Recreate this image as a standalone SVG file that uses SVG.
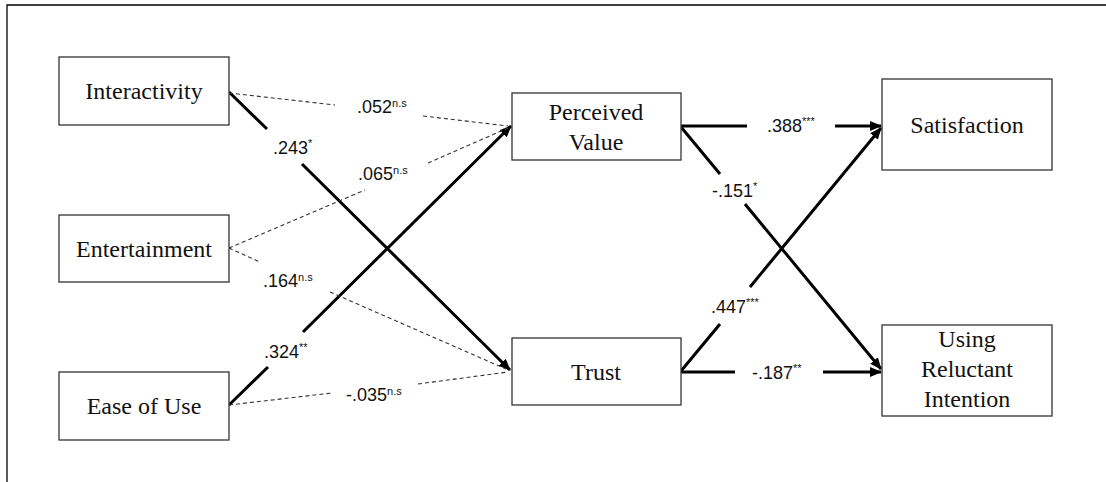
<svg xmlns="http://www.w3.org/2000/svg" width="1106" height="482" viewBox="0 0 1106 482">
<style>
.box{fill:#fff;stroke:#333;stroke-width:1.3}
.nt{font-family:'Liberation Serif','Times New Roman','DejaVu Serif',serif;font-size:24px;fill:#111;text-anchor:middle}
.lb{font-family:'Liberation Sans',Arial,sans-serif;font-size:18px;fill:#111}
.sp{font-size:11px}
.solid{fill:none;stroke:#000;stroke-width:3}
.dash{fill:none;stroke:#333;stroke-width:1.1;stroke-dasharray:4 3}
.frame{fill:none;stroke:#000;stroke-width:1.3}
</style>
<defs>
<marker id="ah" markerUnits="userSpaceOnUse" markerWidth="12" markerHeight="10" viewBox="0 0 12 10" refX="11" refY="5" orient="auto">
<path d="M0,0 L12,5 L0,10 z" fill="#000"/>
</marker>
</defs>
<rect width="1106" height="482" fill="#fff"/>
<path class="frame" d="M7,482 L7,5 L1106,5"/>

<g id="connectors">
<path class="solid" d="M229,92 L267,129 M302,164 L510,370" marker-end="url(#ah)"/>
<path class="solid" d="M229,405 L268,367 M303,332 L511,126" marker-end="url(#ah)"/>
<path class="solid" d="M681,126 L747,126 M835,126 L881,126" marker-end="url(#ah)"/>
<path class="solid" d="M681,127 L720,174 M745,204 L881,369" marker-end="url(#ah)"/>
<path class="solid" d="M681,371 L720,324 M750,287 L881,128" marker-end="url(#ah)"/>
<path class="solid" d="M681,372 L735,372 M823,372 L881,372" marker-end="url(#ah)"/>
<path class="dash" d="M229,93 L335,105 M423,116 L508,126"/>
<path class="dash" d="M229,248 L365,190 M428,163 L508,128"/>
<path class="dash" d="M229,248 L260,262 M330,292 L506,369"/>
<path class="dash" d="M229,405 L332,393 M418,384 L508,372"/>
</g>

<g id="labels" font-family="'Liberation Sans', Arial, sans-serif">
<text class="lb" x="357" y="113">.052<tspan class="sp" dy="-6">n.s</tspan></text>
<text class="lb" x="273" y="154">.243<tspan class="sp" dy="-7">*</tspan></text>
<text class="lb" x="358" y="180">.065<tspan class="sp" dy="-6">n.s</tspan></text>
<text class="lb" x="263" y="287">.164<tspan class="sp" dy="-6">n.s</tspan></text>
<text class="lb" x="264" y="358">.324<tspan class="sp" dy="-7">**</tspan></text>
<text class="lb" x="346" y="401">-.035<tspan class="sp" dy="-6">n.s</tspan></text>
<text class="lb" x="767" y="132">.388<tspan class="sp" dy="-7">***</tspan></text>
<text class="lb" x="712" y="197">-.151<tspan class="sp" dy="-7">*</tspan></text>
<text class="lb" x="711" y="313">.447<tspan class="sp" dy="-7">***</tspan></text>
<text class="lb" x="752" y="379">-.187<tspan class="sp" dy="-7">**</tspan></text>
</g>

<g id="interactivity" font-family="'Liberation Serif', serif">
<rect class="box" x="59" y="57" width="170" height="68"/>
<text class="nt" x="144" y="99">Interactivity</text>
</g>
<g id="entertainment" font-family="'Liberation Serif', serif">
<rect class="box" x="59" y="215" width="170" height="67"/>
<text class="nt" x="144" y="257">Entertainment</text>
</g>
<g id="ease-of-use" font-family="'Liberation Serif', serif">
<rect class="box" x="59" y="372" width="170" height="68"/>
<text class="nt" x="144" y="414">Ease of Use</text>
</g>
<g id="perceived-value" font-family="'Liberation Serif', serif">
<rect class="box" x="512" y="93" width="169" height="67"/>
<text class="nt" x="596" y="120">Perceived</text>
<text class="nt" x="596" y="150">Value</text>
</g>
<g id="trust" font-family="'Liberation Serif', serif">
<rect class="box" x="512" y="338" width="169" height="67"/>
<text class="nt" x="596" y="380">Trust</text>
</g>
<g id="satisfaction" font-family="'Liberation Serif', serif">
<rect class="box" x="882" y="79" width="170" height="91"/>
<text class="nt" x="967" y="133">Satisfaction</text>
</g>
<g id="using-reluctant-intention" font-family="'Liberation Serif', serif">
<rect class="box" x="882" y="325" width="170" height="91"/>
<text class="nt" x="967" y="347">Using</text>
<text class="nt" x="967" y="377">Reluctant</text>
<text class="nt" x="967" y="407">Intention</text>
</g>
</svg>
